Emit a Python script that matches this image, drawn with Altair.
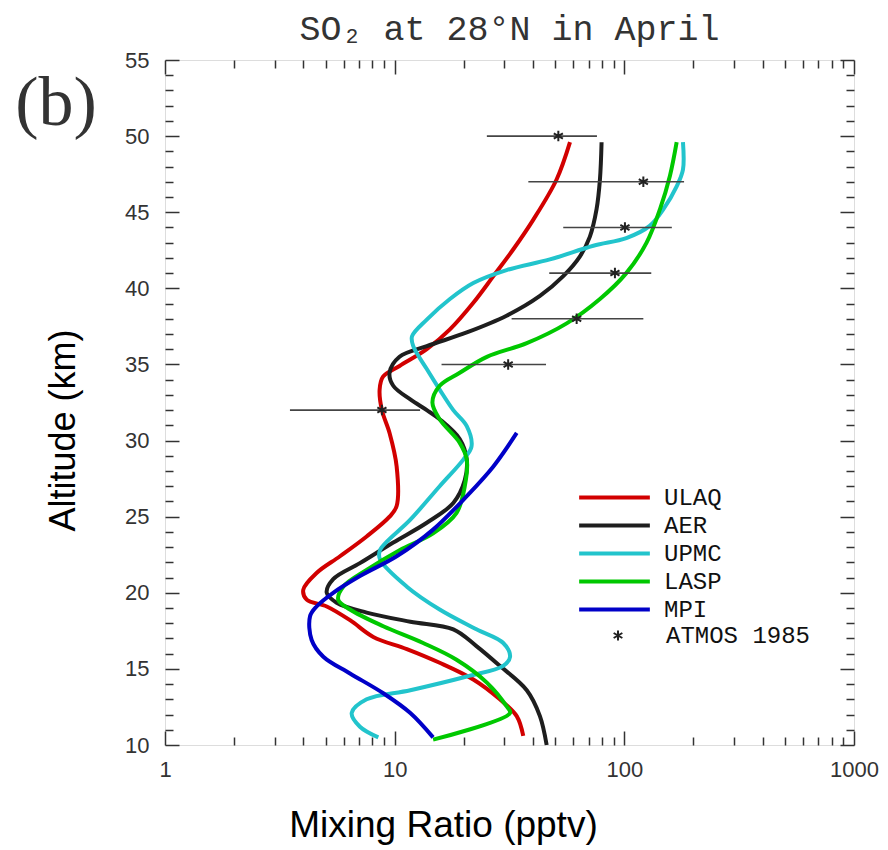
import altair as alt
import pandas as pd

# ---------------- data ----------------
models = ["ULAQ", "AER", "UPMC", "LASP", "MPI"]
colors = ["#d20000", "#1e1e1e", "#22c4cc", "#00c800", "#0000c8"]

ulaq_alt = [49.6, 47.15, 44.5, 42.55, 40.8, 39.05, 37.3, 36.0, 34.9, 34.2, 33.35, 32.0, 30.5, 28.3,
            25.7, 25.0, 23.7, 22.4, 21.3, 20.2, 19.55, 19.1, 18.2, 17.1, 16.3, 15.4, 14.3, 13.0, 11.9, 10.6]
ulaq_val = [58.0, 50.7, 40.1, 32.8, 26.9, 22.0, 17.4, 13.8, 10.5, 8.9, 8.6, 8.8, 9.5, 10.2,
            10.2, 9.5, 7.55, 5.78, 4.57, 4.0, 4.14, 5.06, 6.39, 8.07, 11.3, 15.7, 22.0, 28.7, 34.0, 36.3]

aer_alt = [49.6, 47.15, 45.2, 43.4, 42.1, 40.8, 39.5, 38.2, 37.1, 36.2, 35.5, 34.45, 33.6, 32.7, 32.0,
           31.4, 30.1, 28.75, 27.4, 25.9, 24.6, 23.3, 21.95, 20.9, 20.0, 19.35, 18.7, 18.1, 17.6, 16.5,
           15.2, 13.6, 11.9, 10.0]
aer_val = [79.6, 78.3, 75.7, 70.8, 64.1, 54.2, 42.9, 30.7, 20.6, 13.8, 10.5, 9.5, 9.86, 11.7, 13.8,
           15.7, 19.2, 20.6, 20.2, 18.0, 13.8, 9.86, 7.06, 5.4, 5.06, 5.59, 7.55, 11.7, 18.0, 22.7,
           28.7, 37.6, 42.9, 45.9]

upmc_alt = [49.6, 47.8, 46.7, 45.2, 44.1, 43.3, 42.8, 41.9, 41.2, 40.35, 39.3, 37.95, 36.85, 36.2,
            34.7, 33.35, 32.0, 30.95, 29.6, 28.75, 27.0, 24.8, 22.8, 22.2, 20.4, 18.9, 17.6, 16.7,
            15.8, 15.2, 14.5, 13.6, 13.0, 12.1, 11.2, 10.5]
upmc_val = [180, 180, 169, 148, 129, 102, 73.3, 47.4, 30.7, 22.0, 17.4, 13.8, 11.9, 12.05,
            13.8, 15.7, 18.0, 20.6, 21.6, 19.9, 15.7, 11.7, 8.63, 8.63, 11.3, 15.7, 22.7, 29.7,
            31.8, 29.7, 20.6, 11.7, 7.55, 6.5, 7.06, 8.49]

lasp_alt = [49.6, 47.4, 45.2, 43.0, 41.0, 39.3, 37.7, 36.4, 35.5, 34.45, 33.6, 32.5, 31.4, 29.85,
            28.75, 27.0, 25.25, 23.9, 22.8, 21.5, 20.4, 19.55, 18.9, 17.8, 16.7, 15.6, 14.1, 12.55,
            12.1, 10.35]
lasp_val = [169, 158, 143, 125, 102, 78.3, 56.1, 37.6, 25.2, 19.2, 15.7, 14.6, 15.7, 19.2,
            20.6, 20.2, 18.6, 14.7, 10.5, 7.55, 5.97, 5.68, 6.39, 8.92, 13.3, 18.6, 25.2, 30.7,
            31.8, 14.7]

mpi_alt = [30.5, 28.3, 26.35, 24.15, 22.4, 21.1, 20.0, 19.1, 18.45, 16.9, 15.8, 14.7, 13.4, 12.1, 10.5]
mpi_val = [34.0, 26.9, 20.6, 14.7, 10.2, 7.06, 5.4, 4.57, 4.28, 4.35, 4.89, 6.39, 8.92, 11.7, 14.7]

atmos_alt = [50, 47, 44, 41, 38, 35, 32]
atmos_val = [51.6, 121, 100.6, 91.0, 62.0, 31.2, 8.8]
atmos_lo = [25.2, 38.2, 54.2, 47.1, 32.3, 16.0, 3.5]
atmos_hi = [76.0, 182, 161, 131, 121, 45.6, 12.9]

x_labels = [1, 10, 100, 1000]
x_minor = [2, 3, 4, 5, 6, 7, 8, 9, 20, 30, 40, 50, 60, 70, 80, 90, 200, 300, 400, 500, 600, 700, 800, 900]
y_major = [10, 15, 20, 25, 30, 35, 40, 45, 50, 55]
y_minor = [v for v in range(11, 55) if v % 5 != 0]

# ---------------- tables ----------------
rows = []
for name, alts, vals in [("ULAQ", ulaq_alt, ulaq_val), ("AER", aer_alt, aer_val),
                         ("UPMC", upmc_alt, upmc_val), ("LASP", lasp_alt, lasp_val),
                         ("MPI", mpi_alt, mpi_val)]:
    for i, (a, v) in enumerate(zip(alts, vals)):
        rows.append({"model": name, "alt": a, "val": v, "i": i})
lines_df = pd.DataFrame(rows)
atmos_df = pd.DataFrame({"alt": atmos_alt, "val": atmos_val, "lo": atmos_lo, "hi": atmos_hi,
                         "src": ["ATMOS 1985"] * len(atmos_alt)})
label_df = pd.DataFrame({"t": ["(b)"]})

W, H = 689, 685
XS = alt.Scale(type="log", domain=[1, 1000], nice=False)
YS = alt.Scale(domain=[10, 55], nice=False, zero=False)
TICKC = "#333333"
MAJ, MIN = 14, 8
MONO = "Liberation Mono"


def tick_axis(orient, values, size):
    return alt.Axis(orient=orient, values=values, labels=False, domain=False, grid=False,
                    ticks=True, tickSize=size, offset=-size, tickColor=TICKC, tickWidth=1.5,
                    title=None)


x_lab_axis = alt.Axis(orient="bottom", values=x_labels, format="d", ticks=False, domain=False,
                      grid=False, labelFont="Liberation Sans", labelFontSize=22, labelColor="#333333",
                      labelPadding=14, labelFlush=False, labelOverlap=False,
                      title="Mixing Ratio (pptv)", titleFont="Liberation Sans", titleFontSize=37,
                      titleFontWeight="normal", titleColor="black", titleX=278, titleY=80,
                      titleBaseline="middle", titleAlign="center")
y_lab_axis = alt.Axis(orient="left", values=y_major, ticks=False, domain=False, grid=False,
                      labelFont="Liberation Sans", labelFontSize=22, labelColor="#333333",
                      labelPadding=16, labelOverlap=False,
                      title="Altitude (km)", titleFont="Liberation Sans", titleFontSize=36,
                      titleFontWeight="normal", titleColor="black", titleX=-102, titleY=370,
                      titleAngle=270, titleBaseline="middle", titleAlign="center")

lines = alt.Chart(lines_df).mark_line(strokeWidth=4, interpolate="catmull-rom").encode(
    x=alt.X("val:Q", scale=XS, axis=x_lab_axis),
    y=alt.Y("alt:Q", scale=YS, axis=y_lab_axis),
    color=alt.Color("model:N", scale=alt.Scale(domain=models, range=colors),
                    legend=alt.Legend(orient="none", legendX=412, legendY=425, title=None,
                                      symbolType="stroke", symbolSize=5000, symbolStrokeWidth=4,
                                      clipHeight=25, rowPadding=3, padding=0,
                                      labelFont=MONO, labelFontSize=24,
                                      labelColor="#111111", labelOffset=12)),
    order="i:Q",
)

ASTER = "M0,-1L0,1M-0.87,-0.5L0.87,0.5M-0.87,0.5L0.87,-0.5"

bars = alt.Chart(atmos_df).mark_rule(color="#444444", strokeWidth=1.6).encode(
    x=alt.X("lo:Q", scale=XS, axis=tick_axis("bottom", x_minor, MIN)),
    x2="hi:Q",
    y=alt.Y("alt:Q", scale=YS, axis=tick_axis("left", y_minor, MIN)),
)

points = alt.Chart(atmos_df).mark_point(filled=False, color="#222222", strokeWidth=2, size=110,
                                        opacity=1).encode(
    x=alt.X("val:Q", scale=XS, axis=tick_axis("bottom", x_labels, MAJ)),
    y=alt.Y("alt:Q", scale=YS, axis=tick_axis("left", y_major, MAJ)),
    shape=alt.Shape("src:N", scale=alt.Scale(domain=["ATMOS 1985"], range=[ASTER]),
                    legend=alt.Legend(orient="none", legendX=412, legendY=563, title=None,
                                      clipHeight=25, padding=0, symbolOffset=29,
                                      symbolStrokeColor="#222222", symbolStrokeWidth=2,
                                      labelFont=MONO, labelFontSize=24,
                                      labelColor="#111111", labelOffset=36)),
)

dummy_top_major = alt.Chart(atmos_df).mark_point(opacity=0).encode(
    x=alt.X("val:Q", scale=XS, axis=tick_axis("top", x_labels, MAJ)),
    y=alt.Y("alt:Q", scale=YS, axis=tick_axis("right", y_major, MAJ)),
)
dummy_top_minor = alt.Chart(atmos_df).mark_point(opacity=0).encode(
    x=alt.X("val:Q", scale=XS, axis=tick_axis("top", x_minor, MIN)),
    y=alt.Y("alt:Q", scale=YS, axis=tick_axis("right", y_minor, MIN)),
)

panel_label = alt.Chart(label_df).mark_text(font="Liberation Serif", fontSize=70, align="center",
                                            baseline="alphabetic", color="#333333").encode(
    text="t:N", x=alt.value(-109), y=alt.value(65)
)

chart = alt.layer(lines, bars, points, dummy_top_major, dummy_top_minor, panel_label).resolve_axis(
    x="independent", y="independent"
).resolve_legend(color="independent", shape="independent").properties(
    width=W, height=H,
    autosize=alt.AutoSizeParams(type="none"),
    padding={"left": 165, "top": 60, "right": 34, "bottom": 105},
    title=alt.TitleParams("SO₂ at 28°N in April", font=MONO, fontSize=35,
                          fontWeight="normal", color="#333333", offset=2, anchor="middle"),
).configure_view(stroke="#333333", strokeWidth=1.6).configure(background="white")

chart.save("out.html", embed_options={"renderer": "svg", "actions": False})
